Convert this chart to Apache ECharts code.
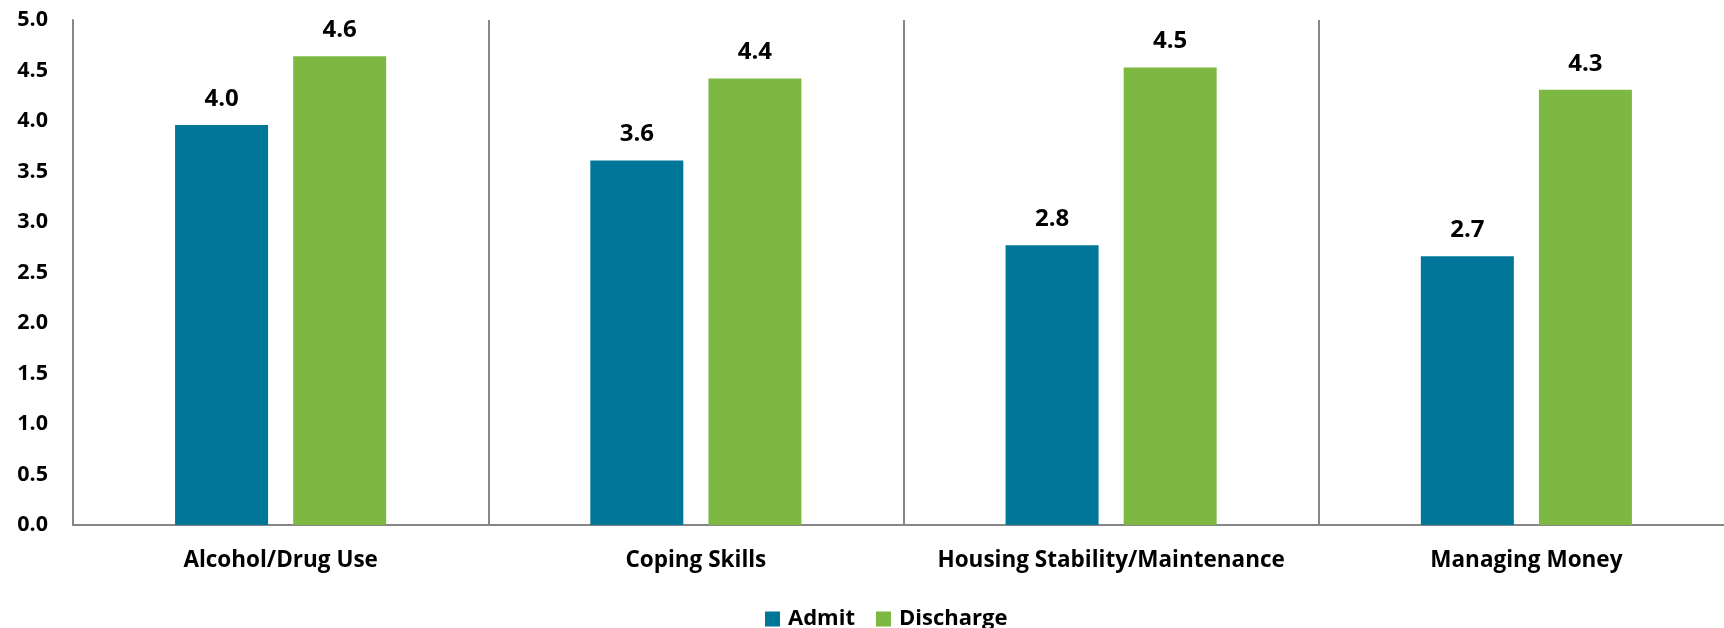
<!DOCTYPE html>
<html>
<head>
<meta charset="utf-8">
<script src="https://cdn.jsdelivr.net/npm/echarts@6/dist/echarts.min.js"></script>
<style>
html,body{margin:0;padding:0;background:#fff;overflow:hidden;}
#chart{width:1734px;height:628px;}
</style>
</head>
<body>
<div id="chart"></div>
<script>
var categories = ['Alcohol/Drug Use', 'Coping Skills', 'Housing Stability/Maintenance', 'Managing Money'];
var admitValues = [3.96, 3.61, 2.77, 2.66];
var dischargeValues = [4.64, 4.42, 4.53, 4.31];
var seriesNames = ['Admit', 'Discharge'];
var yTicks = { min: 0, max: 5, interval: 0.5 };

var FONT = '"Open Sans", sans-serif';
var chart = echarts.init(document.getElementById('chart'));
var labelCfg = {
  show: true, position: 'top', distance: 14,
  color: '#000', fontFamily: FONT, fontWeight: 'bold', fontSize: 24,
  formatter: function (p) { return Number(p.value).toFixed(1); }
};
chart.setOption({
  animation: false,
  textStyle: { fontFamily: FONT },
  grid: { left: 73, top: 20, right: 0, bottom: 103, containLabel: false },
  legend: {
    data: seriesNames, left: 760, top: 603, itemWidth: 15, itemHeight: 15, itemGap: 21,
    icon: 'rect',
    textStyle: { fontFamily: FONT, fontWeight: 'bold', fontSize: 22, color: '#000', padding: [0, 0, 0, 3] }
  },
  xAxis: {
    type: 'category', data: categories,
    axisLine: { show: true, lineStyle: { color: '#868686', width: 2 } },
    axisTick: { show: false },
    splitLine: { show: true, lineStyle: { color: '#868686', width: 2 } },
    axisLabel: { color: '#000', fontFamily: FONT, fontWeight: 'bold', fontSize: 22.5, margin: 24, interval: 0 }
  },
  yAxis: {
    type: 'value', min: yTicks.min, max: yTicks.max, interval: yTicks.interval,
    axisLine: { show: true, lineStyle: { color: '#868686', width: 2 } },
    axisTick: { show: false },
    splitLine: { show: false },
    axisLabel: { color: '#000', fontFamily: FONT, fontWeight: 'bold', fontSize: 21.5, margin: 25,
      formatter: function (v) { return v.toFixed(1); } }
  },
  series: [
    { name: seriesNames[0], type: 'bar', data: admitValues, barWidth: 93, barGap: '27%',
      itemStyle: { color: '#007698' }, label: labelCfg },
    { name: seriesNames[1], type: 'bar', data: dischargeValues, barWidth: 93, barGap: '27%',
      itemStyle: { color: '#7DB843' }, label: labelCfg }
  ]
});
</script>
</body>
</html>
